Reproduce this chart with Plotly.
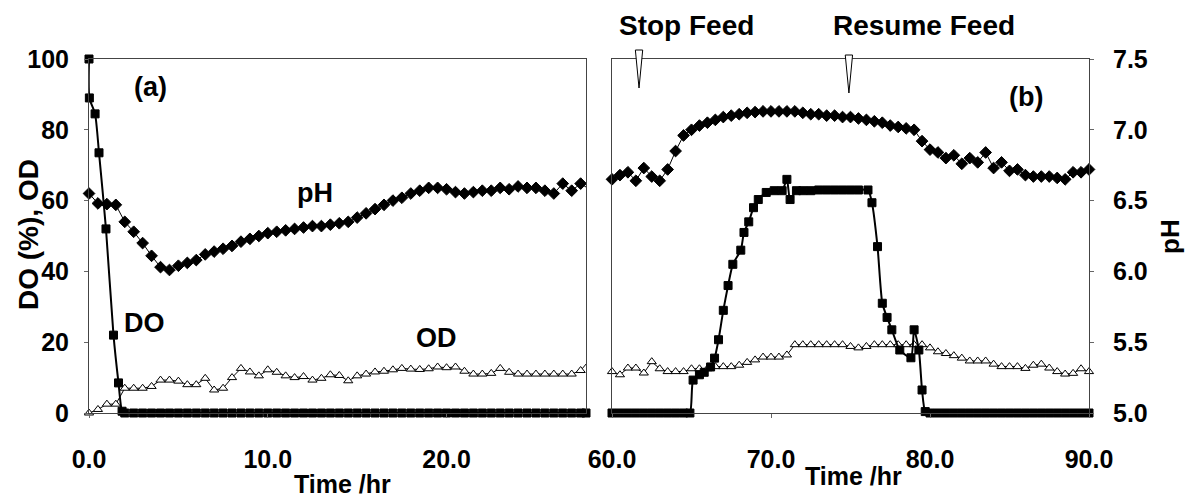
import plotly.graph_objects as go

W, H = 1186, 500

# ---------------- Panel (a) data ----------------
time_a = [0.0, 0.5, 1.0, 1.5, 2.0, 2.5, 3.0, 3.5, 4.0, 4.5, 5.0, 5.5, 6.0, 6.5, 7.0, 7.5,
          8.0, 8.5, 9.0, 9.5, 10.0, 10.5, 11.0, 11.5, 12.0, 12.5, 13.0, 13.5, 14.0, 14.5,
          15.0, 15.5, 16.0, 16.5, 17.0, 17.5, 18.0, 18.5, 19.0, 19.5, 20.0, 20.5, 21.0,
          21.5, 22.0, 22.5, 23.0, 23.5, 24.0, 24.5, 25.0, 25.5, 26.0, 26.5, 27.0, 27.5, 28.0]
od_a = [0, 1, 2.5, 2.5, 7, 7, 7, 7.5, 9.3, 9.3, 9, 8, 8, 9.8, 6.5, 7, 10, 12.6, 11.6, 10.5,
        12.2, 11.5, 10.5, 10, 10.3, 9.3, 9.8, 10.8, 10.6, 9.1, 10.5, 11, 11.6, 11.8, 12.2,
        12.6, 12.4, 12.3, 12.5, 13, 12.8, 13, 11.8, 11, 11, 11.2, 12.6, 11.5, 11, 11, 11,
        11, 11, 11, 11, 12, 15]
ph_a = [6.55, 6.48, 6.475, 6.47, 6.35, 6.28, 6.20, 6.11, 6.03, 6.01, 6.04, 6.06, 6.08, 6.12,
        6.14, 6.16, 6.18, 6.21, 6.23, 6.25, 6.27, 6.28, 6.29, 6.30, 6.31, 6.32, 6.32, 6.33,
        6.34, 6.35, 6.38, 6.41, 6.44, 6.47, 6.50, 6.52, 6.55, 6.57, 6.59, 6.59, 6.58, 6.56,
        6.55, 6.56, 6.57, 6.57, 6.59, 6.58, 6.60, 6.59, 6.59, 6.57, 6.55, 6.62, 6.57, 6.62, 6.58]
do_a_time = [0.0, 0.02, 0.34, 0.56, 0.95, 1.37, 1.65, 1.85, 2.0, 2.5, 3.0, 3.5, 4.0, 4.5,
             5.0, 5.5, 6.0, 6.5, 7.0, 7.5, 8.0, 8.5, 9.0, 9.5, 10.0, 10.5, 11.0, 11.5, 12.0,
             12.5, 13.0, 13.5, 14.0, 14.5, 15.0, 15.5, 16.0, 16.5, 17.0, 17.5, 18.0, 18.5,
             19.0, 19.5, 20.0, 20.5, 21.0, 21.5, 22.0, 22.5, 23.0, 23.5, 24.0, 24.5, 25.0,
             25.5, 26.0, 26.5, 27.0, 27.5, 27.8]
do_a = [100, 89, 84.5, 73.5, 52, 22, 8.5, 0.5, 0, 0, 0, 0, 0, 0, 0, 0, 0, 0, 0, 0, 0, 0,
        0, 0, 0, 0, 0, 0, 0, 0, 0, 0, 0, 0, 0, 0, 0, 0, 0, 0, 0, 0, 0, 0, 0, 0, 0, 0, 0, 0,
        0, 0, 0, 0, 0, 0, 0, 0, 0, 0, 0]

# ---------------- Panel (b) data ----------------
time_b = [60.0, 60.5, 61.0, 61.5, 62.0, 62.5, 63.0, 63.5, 64.0, 64.5, 65.0, 65.5, 66.0, 66.5,
          67.0, 67.5, 68.0, 68.5, 69.0, 69.5, 70.0, 70.5, 71.0, 71.5, 72.0, 72.5, 73.0, 73.5,
          74.0, 74.5, 75.0, 75.5, 76.0, 76.5, 77.0, 77.5, 78.0, 78.5, 79.0, 79.5, 80.0, 80.5,
          81.0, 81.5, 82.0, 82.5, 83.0, 83.5, 84.0, 84.5, 85.0, 85.5, 86.0, 86.5, 87.0, 87.5,
          88.0, 88.5, 89.0, 89.5, 90.0]
od_b = [11.7, 10.8, 12.7, 12.7, 11.3, 14.5, 12.5, 11.7, 11.7, 11.7, 12.5, 12.5, 12.5, 13.1,
        13.1, 13.1, 13.5, 14.3, 15, 15.8, 15.8, 15.8, 16.4, 19.3, 19.3, 19.3, 19.3, 19.3,
        19.3, 19.3, 18.8, 18.4, 18.8, 19.3, 19.3, 19.3, 19.3, 19.3, 19.3, 19.3, 18.4, 17.3,
        16.8, 16.2, 15.5, 14.7, 14.7, 14.7, 13.8, 13.1, 13.1, 13.1, 12.6, 13.5, 13.8, 12.7,
        11.7, 11, 11.2, 12.5, 11.7]
ph_b = [6.65, 6.68, 6.70, 6.64, 6.73, 6.67, 6.64, 6.72, 6.85, 6.96, 7.00, 7.03, 7.05, 7.07,
        7.09, 7.10, 7.11, 7.12, 7.125, 7.13, 7.13, 7.13, 7.13, 7.13, 7.12, 7.11, 7.11, 7.10,
        7.10, 7.09, 7.09, 7.08, 7.07, 7.06, 7.05, 7.03, 7.02, 7.01, 7.00, 6.92, 6.86, 6.84,
        6.80, 6.82, 6.76, 6.80, 6.77, 6.84, 6.73, 6.77, 6.71, 6.72, 6.68, 6.67, 6.67, 6.67,
        6.66, 6.65, 6.70, 6.70, 6.72]
do_b_time = [60.0, 60.5, 61.0, 61.5, 62.0, 62.5, 63.0, 63.5, 64.0, 64.5, 64.9, 65.1, 65.5,
             65.8, 66.2, 66.45, 66.7, 67.0, 67.3, 67.6, 68.1, 68.3, 68.6, 68.9, 69.2, 69.7,
             70.2, 70.7, 71.0, 71.2, 71.6, 72.0, 72.5, 73.0, 73.5, 74.0, 74.5, 75.0, 75.5,
             76.1, 76.35, 76.7, 77.0, 77.3, 77.6, 78.1, 78.8, 79.0, 79.3, 79.5, 79.7, 80.0,
             80.5, 81.0, 81.5, 82.0, 82.5, 83.0, 83.5, 84.0, 84.5, 85.0, 85.5, 86.0, 86.5,
             87.0, 87.5, 88.0, 88.5, 89.0, 89.5, 90.0]
do_b = [0, 0, 0, 0, 0, 0, 0, 0, 0, 0, 0, 9.3, 10.8, 11.5, 13, 15.5, 20.7, 29, 36, 42, 46, 51,
        54, 58, 60.3, 62.3, 62.8, 62.8, 66, 60.3, 62.8, 62.8, 62.8, 63, 63, 63, 63, 63, 63,
        63, 59.4, 47, 31, 27, 23.5, 17.8, 15.6, 23.5, 17.8, 6.5, 0.4, 0, 0, 0, 0, 0, 0, 0,
        0, 0, 0, 0, 0, 0, 0, 0, 0, 0, 0, 0, 0, 0]

feed_event_labels = ["Stop Feed", "Resume Feed"]
feed_event_times = [61.7, 74.9]

# ---------------- Layout geometry (pixels) ----------------
FONT = "Liberation Sans, Arial, sans-serif"
xa_dom = [89 / W, 586 / W]
xb_dom = [612 / W, 1089 / W]
y_dom = [1 - 413 / H, 1 - 59 / H]

fig = go.Figure()

def add_series(x, y, xa, ya, symbol, size, lw, fill, spline=False):
    fig.add_trace(go.Scatter(
        x=x, y=y, xaxis=xa, yaxis=ya, mode="lines+markers",
        line=dict(color="black", width=lw, shape="spline" if spline else "linear",
                  smoothing=0.6 if spline else None),
        marker=dict(symbol=symbol, size=size, color=fill,
                    line=dict(color="black", width=1)),
        cliponaxis=False, showlegend=False, hoverinfo="skip"))

# panel a
add_series(time_a, ph_a, "x", "y3", "diamond", 9, 1, "black")
add_series(time_a, od_a, "x", "y", "triangle-up", 8, 1, "white")
add_series(do_a_time, do_a, "x", "y", "square", 8, 2, "black", spline=True)
# panel b
add_series(time_b, ph_b, "x2", "y4", "diamond", 9, 1, "black")
add_series(time_b, od_b, "x2", "y2", "triangle-up", 8, 1, "white")
add_series(do_b_time, do_b, "x2", "y2", "square", 8, 2, "black", spline=True)

tickfont = dict(family=FONT, size=25, color="black", weight="bold")
axis_common = dict(showgrid=False, zeroline=False, showline=True, linecolor="#444",
                   linewidth=1, mirror=True, tickfont=tickfont, automargin=False,
                   ticks="outside", ticklen=4, tickcolor="#666")

fig.update_layout(
    width=W, height=H, margin=dict(l=0, r=0, t=0, b=0),
    paper_bgcolor="white", plot_bgcolor="white",
    xaxis=dict(domain=xa_dom, range=[0, 27.8], anchor="y", tickvals=[0, 10, 20],
               tickformat=".1f", ticklabelstandoff=20, **axis_common),
    yaxis=dict(domain=y_dom, range=[0, 100], anchor="x", tickvals=[0, 20, 40, 60, 80, 100],
               ticklabelstandoff=10, **axis_common),
    yaxis3=dict(range=[5, 7.5], overlaying="y", anchor="x", visible=False),
    xaxis2=dict(domain=xb_dom, range=[60, 90], anchor="y2", tickvals=[60, 70, 80, 90],
                tickformat=".1f", ticklabelstandoff=20, **axis_common),
    yaxis2=dict(domain=y_dom, range=[0, 100], anchor="x2", showticklabels=False,
                **{k: v for k, v in axis_common.items() if k != "ticks"}, ticks=""),
    yaxis4=dict(range=[5, 7.5], overlaying="y2", anchor="x2", side="right",
                tickvals=[5, 5.5, 6, 6.5, 7, 7.5], tickformat=".1f",
                ticklabelstandoff=14, showgrid=False, zeroline=False, showline=False,
                tickfont=tickfont, ticks="outside", ticklen=4, tickcolor="#666",
                automargin=False),
)

def label(text, px, py, size, angle=0):
    fig.add_annotation(text=text, x=px / W, y=1 - py / H, xref="paper", yref="paper",
                       showarrow=False, xanchor="center", yanchor="middle",
                       textangle=angle,
                       font=dict(family=FONT, size=size, color="black", weight="bold"))

label("DO (%), OD", 28, 235, 28, -90)
label("pH", 1170, 237, 26, -90)
label("Time /hr", 342, 484, 25)
label("Time /hr", 853, 476, 25)
label("(a)", 150, 87, 27)
label("(b)", 1026, 97, 27)
label("pH", 315, 193, 27)
label("DO", 144, 323, 27)
label("OD", 437, 338, 27)

# feed event markers and labels
label_px = [686, 924]
tri_top = [0.90, 0.89]
tri_bot = [0.824, 0.814]
for name, t, lp, yt, yb in zip(feed_event_labels, feed_event_times, label_px, tri_top, tri_bot):
    label(name, lp, 25, 28)
    fig.add_shape(type="path", xref="x2", yref="paper",
                  path=f"M {t-0.23},{yt} L {t+0.23},{yt} L {t},{yb} Z",
                  fillcolor="white", line=dict(color="black", width=1))

fig.write_html("out.html")
